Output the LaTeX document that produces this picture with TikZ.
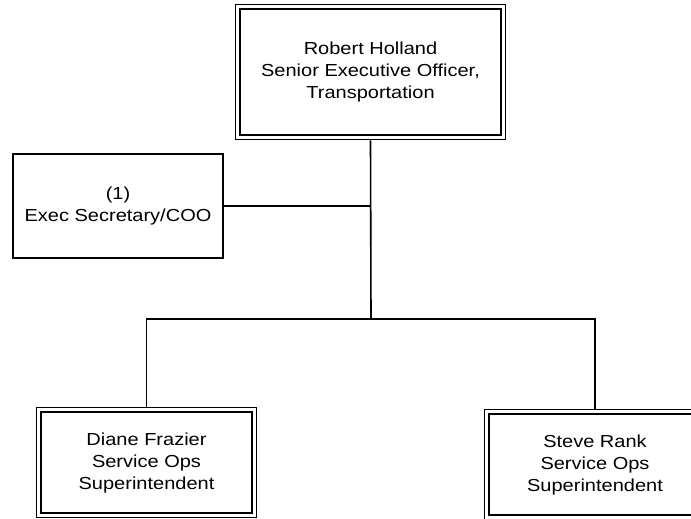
\documentclass[tikz,border=0pt]{standalone}
\usepackage{fontspec}
\setmainfont{Liberation Sans}[FakeStretch=1.15]
\usetikzlibrary{positioning,fit}
\tikzset{post/.style={draw,line width=1.8pt,align=center,inner sep=0pt,
    minimum width=211pt,minimum height=101pt,font=\fontsize{17.4}{22}\selectfont},
  frame/.style={draw,line width=1pt,inner sep=4pt},
  staff/.style={post,line width=1.5pt},
  link/.style={line width=1.6pt}}

\begin{document}
\begin{tikzpicture}[x=1pt,y=-1pt]
\useasboundingbox (0,0) rectangle (691,519);
% head of the unit
\node[post,minimum width=261pt,minimum height=126pt] (holland) at (370.5,72)
  {Robert Holland\\Senior Executive Officer,\\Transportation};
\node[frame,fit=(holland)] (hollandframe) {};
% staff post
\node[staff,minimum width=210pt,minimum height=104pt] (secretary) at (118,206)
  {(1)\\Exec Secretary/COO};
% superintendents
\node[post] (frazier) at (146.5,462.5) {Diane Frazier\\Service Ops\\Superintendent};
\node[frame,fit=(frazier)] (frazierframe) {};
\node[post,minimum width=212pt] (rank) at (595,464.5) {Steve Rank\\Service Ops\\Superintendent};
\node[frame,fit=(rank)] (rankframe) {};
\coordinate (hub) at (371,319);
\draw[link] (hollandframe.south) -- (hub);
\draw[link] (secretary.east) -- (secretary.east -| hub);
\draw[link] (frazierframe.north) |- (hub) -| (rankframe.north);
\end{tikzpicture}
\end{document}
